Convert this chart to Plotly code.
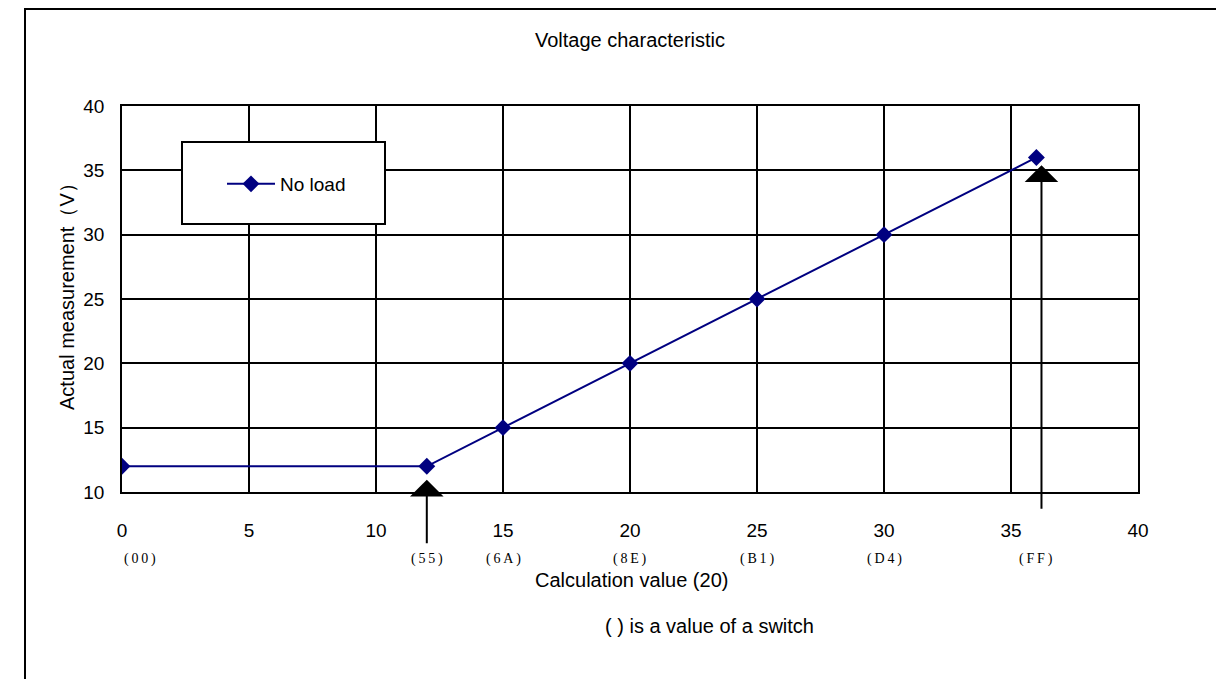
import plotly.graph_objects as go

# ---- data ----
calc_values = [0, 12, 15, 20, 25, 30, 36]
measured_v = [12, 12, 15, 20, 25, 30, 36]
switch_labels = ["(00)", "(55)", "(6A)", "(8E)", "(B1)", "(D4)", "(FF)"]
x_ticks = [0, 5, 10, 15, 20, 25, 30, 35, 40]
y_ticks = [10, 15, 20, 25, 30, 35, 40]
arrow_x = [12, 36.2]
arrow_tip_y = [10.95, 35.4]
arrow_len_px = [65, 345]

OFF = 8  # page body margin
W, H = 1224 - OFF, 679 - OFF
# plot area in page pixels
PL, PR, PT, PB = 122, 1138, 106, 492
L, R, T, B = PL - OFF, PR - OFF, PT - OFF, PB - OFF

def px_x(page_x):
    return (page_x - PL) / (PR - PL)

def px_y(page_y):
    return (PB - page_y) / (PB - PT)

NAVY = "#000080"
SANS = "Liberation Sans, Arial, sans-serif"
SERIF = "Liberation Serif, Times New Roman, serif"

fig = go.Figure()
fig.add_trace(go.Scatter(
    x=calc_values, y=measured_v, mode="lines+markers", name="No load",
    line=dict(color=NAVY, width=2),
    marker=dict(symbol="diamond", size=13, color=NAVY),
))

def spaced(s):
    return "\u2009".join(list(s))

annotations = []
for i, (xv, lab) in enumerate(zip(calc_values, switch_labels)):
    annotations.append(dict(
        x=xv, y=0, xref="x", yref="paper",
        text=spaced(lab), showarrow=False,
        font=dict(family=SERIF, size=14, color="black"),
        xanchor="left" if i == 0 else "center", yanchor="middle",
        yshift=-(559 - PB),
    ))
for ax_, ty, ln in zip(arrow_x, arrow_tip_y, arrow_len_px):
    annotations.append(dict(
        x=ax_, y=ty, xref="x", yref="y", ax=0, ay=ln, axref="pixel", ayref="pixel",
        showarrow=True, arrowhead=1, arrowsize=2.8, arrowwidth=2, arrowcolor="black",
        text="",
    ))
annotations.append(dict(
    x=px_x(631), y=0, xref="paper", yref="paper", yshift=-(580 - PB),
    text="Calculation value (20)", showarrow=False,
    font=dict(family=SANS, size=20, color="black"), xanchor="center", yanchor="middle"))
annotations.append(dict(
    x=px_x(709), y=0, xref="paper", yref="paper", yshift=-(626 - PB),
    text="( ) is a value of a switch", showarrow=False,
    font=dict(family=SANS, size=20, color="black"), xanchor="center", yanchor="middle"))
annotations.append(dict(
    x=px_x(67), y=px_y(292), xref="paper", yref="paper",
    text="Actual measurement\uff08V\uff09", showarrow=False, textangle=-90,
    font=dict(family=SANS, size=20, color="black"), xanchor="center", yanchor="middle"))

shapes = [
    dict(type="rect", xref="paper", yref="paper",
         x0=px_x(182), x1=px_x(385), y0=px_y(224), y1=px_y(142),
         line=dict(color="black", width=2), fillcolor="white", layer="above"),
    dict(type="line", xref="paper", yref="paper",
         x0=px_x(25), x1=px_x(25), y0=px_y(9), y1=px_y(700),
         line=dict(color="black", width=2)),
    dict(type="line", xref="paper", yref="paper",
         x0=px_x(24), x1=px_x(1240), y0=px_y(9), y1=px_y(9),
         line=dict(color="black", width=2)),
]

fig.update_layout(
    width=W, height=H,
    margin=dict(l=L, r=W - R, t=T, b=H - B, autoexpand=False),
    paper_bgcolor="white", plot_bgcolor="white",
    title=dict(text="Voltage characteristic", x=0.5, xref="paper",
               y=1 - (40 - OFF) / H, yref="container", xanchor="center", yanchor="middle",
               font=dict(family=SANS, size=20, color="black")),
    showlegend=True,
    legend=dict(x=px_x(222), y=px_y(184), xanchor="left", yanchor="middle",
                bgcolor="rgba(0,0,0,0)", borderwidth=0,
                font=dict(family=SANS, size=19, color="black"), itemwidth=48),
    xaxis=dict(range=[0, 40], tickvals=x_ticks, showgrid=True, gridcolor="black", gridwidth=1.5,
               showline=True, linecolor="black", linewidth=2, mirror=True,
               zeroline=False, ticks="", ticklabelstandoff=20,
               tickfont=dict(family=SANS, size=19, color="black")),
    yaxis=dict(range=[10, 40], tickvals=y_ticks, showgrid=True, gridcolor="black", gridwidth=2,
               showline=True, linecolor="black", linewidth=1.5, mirror=True,
               zeroline=False, ticks="", ticklabelstandoff=12,
               tickfont=dict(family=SANS, size=19, color="black")),
    annotations=annotations, shapes=shapes,
)

fig.write_html("out.html")
